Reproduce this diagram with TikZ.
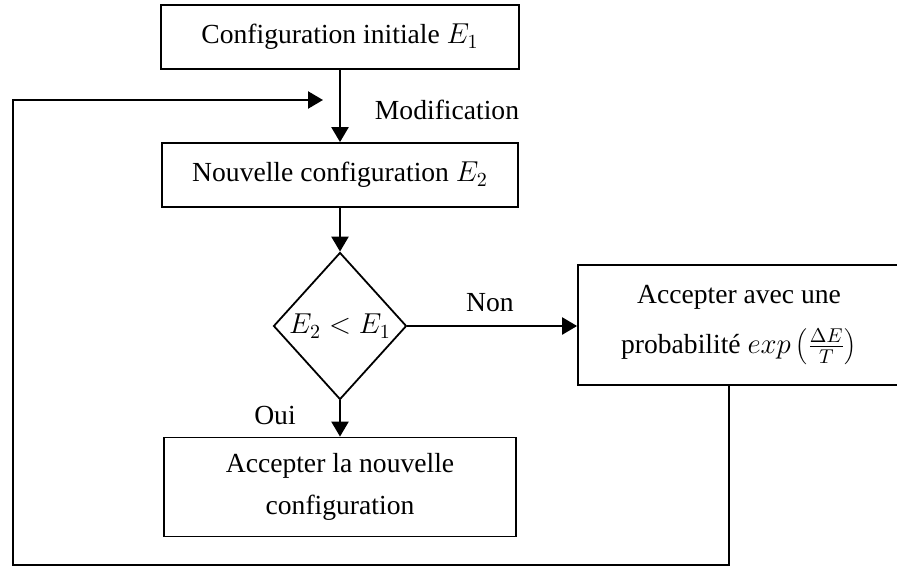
\documentclass[tikz,border=0pt]{standalone}
\usepackage{fontspec}
\setmainfont{Liberation Serif}
\usetikzlibrary{shapes.geometric,arrows.meta}

\begin{document}
\begin{tikzpicture}[x=0.5pt,y=-0.5pt,
    every node/.style={font=\fontsize{13.8}{21}\selectfont},
    boite/.style={draw,line width=0.9pt,align=center,inner sep=0pt},
    losange/.style={draw,line width=0.9pt,diamond,inner sep=0pt,minimum width=66.5pt,minimum height=73.5pt},
    fleche/.style={line width=1.2pt,-{Triangle[length=7.5pt,width=8.5pt]}}]
\useasboundingbox (0,0) rectangle (897,567);
\clip (0,0) rectangle (897,567);

\node[boite,minimum width=179pt,minimum height=32pt] (init) at (340,37) {Configuration initiale $E_1$};
\node[boite,minimum width=178pt,minimum height=32pt] (nouv) at (340,175) {Nouvelle configuration $E_2$};
\node[losange,label={center:$E_2 < E_1$}] (test) at (340,326) {};
\node[boite,minimum width=161pt,minimum height=60pt] (proba) at (739,325)
    {Accepter avec une\\[4pt]probabilité $exp\left(\frac{\Delta E}{T}\right)$};
\node[boite,minimum width=176pt,minimum height=49.5pt] (accept) at (340,487)
    {Accepter la nouvelle\\configuration};

\node (modif) at (447,110) {Modification};
\node (non) at (490,303) {Non};
\node (oui) at (275,415) {Oui};

\draw[fleche] (init) -- (nouv);
\draw[fleche] (nouv) -- (test);
\draw[fleche] (test.east) -- (test.east -| proba.west);
\draw[fleche] (test) -- (accept);

% retour vers la modification
\coordinate (bas) at (729,565);
\coordinate (gauche) at (13,565);
\coordinate (haut) at (13,100);
\coordinate (entree) at (323,100);
\draw[fleche] (proba.south -| bas) -- (bas) -- (gauche) -- (haut) -- (entree);
\end{tikzpicture}
\end{document}
